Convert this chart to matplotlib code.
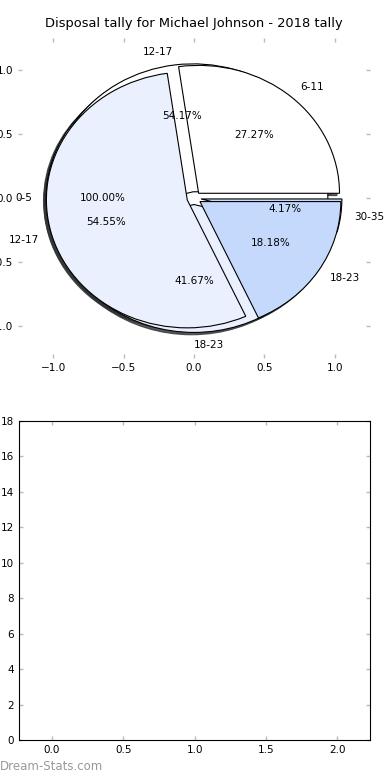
import matplotlib
matplotlib.use("Agg")
import matplotlib.pyplot as plt

# tallies per age group, three seasons overlaid on the same pie axes
groups_a = ["0-5"]
tally_a = [1]

groups_b = ["6-11", "12-17", "18-23"]
tally_b = [3, 6, 2]

groups_c = ["12-17", "18-23", "30-35"]
tally_c = [13, 10, 1]

bar_positions = [0, 1, 2]
bar_heights = [0, 0, 0]

title = "Disposal tally for Michael Johnson - 2018 tally"

pie_colors = ["#ffffff", "#eaf0fd", "#c5d9fc"]

plt.rcParams["font.size"] = 7.5

fig = plt.figure(figsize=(3.9, 7.8), dpi=100)
ax = fig.add_axes([0.046, 0.541, 0.903, 0.41])

for groups, tally in [(groups_a, tally_a), (groups_c, tally_c), (groups_b, tally_b)]:
    ax.pie(tally, labels=groups, colors=pie_colors[:len(tally)],
           explode=[0.05] * len(tally), autopct="%1.2f%%",
           shadow={"ox": -0.013, "oy": -0.013, "shade": 0.8, "alpha": 0.8},
           startangle=0, wedgeprops={"linewidth": 0.8, "edgecolor": "black"},
           textprops={"fontsize": 7.5})

# the bottom "18-23" label of the second season sits to the right of centre
for t in ax.texts:
    if t.get_text() == "18-23" and abs(t.get_position()[0]) < 0.1:
        t.set_ha("left")

ax.set_aspect("auto")
ax.set_xlim(-1.25, 1.25)
ax.set_ylim(-1.25, 1.25)
ax.set_xticks([-1.0, -0.5, 0.0, 0.5, 1.0])
ax.set_yticks([-1.0, -0.5, 0.0, 0.5, 1.0])
ax.tick_params(direction="in", color="#bbbbbb", top=True, right=True, length=3, width=1, labelsize=7.5)
ax.set_title(title, fontsize=9.4, pad=8)

ax2 = fig.add_axes([0.049, 0.0513, 0.9, 0.409])
ax2.bar(bar_positions, bar_heights, width=0.8)
ax2.set_xlim(-0.23, 2.23)
ax2.set_ylim(0, 18)
ax2.set_xticks([0.0, 0.5, 1.0, 1.5, 2.0])
ax2.set_yticks(range(0, 19, 2))
ax2.tick_params(direction="in", color="#bbbbbb", top=True, right=True, length=3, width=1, labelsize=7.5)

fig.text(0.0, 0.013, "Dream-Stats.com", color="#999999", fontsize=8.5)

fig.savefig("out.png", dpi=100)
